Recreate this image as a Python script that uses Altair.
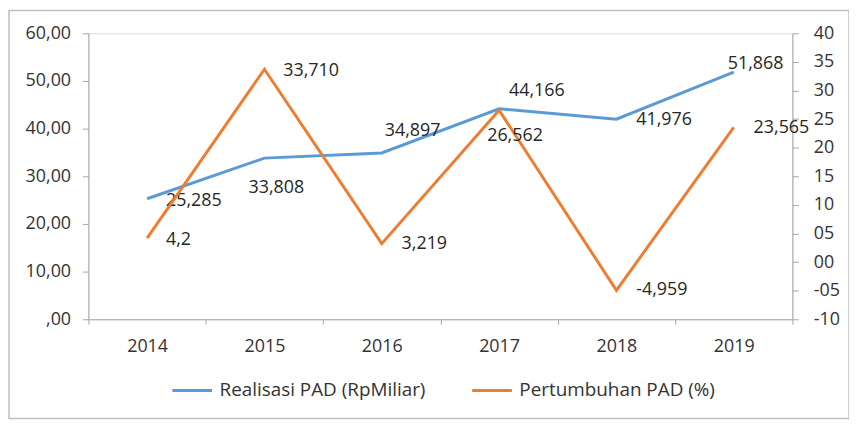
import altair as alt
import pandas as pd

years = ["2014", "2015", "2016", "2017", "2018", "2019"]
realisasi = [25.285, 33.808, 34.897, 44.166, 41.976, 51.868]
pertumbuhan = [4.2, 33.710, 3.219, 26.562, -4.959, 23.565]
realisasi_labels = ["25,285", "33,808", "34,897", "44,166", "41,976", "51,868"]
pertumbuhan_labels = ["4,2", "33,710", "3,219", "26,562", "-4,959", "23,565"]
series_names = ["Realisasi PAD (RpMiliar)", "Pertumbuhan PAD (%)"]
colors = ["#5b9bd5", "#ed7d31"]

left_ticks = [0, 10, 20, 30, 40, 50, 60]
right_ticks = [-10, -5, 0, 5, 10, 15, 20, 25, 30, 35, 40]

# label offsets (dx, dy) in pixels, per point
blue_offsets = [(19, 2), (-16, 30), (3, -22), (10, -18), (20, 1), (-6, -8)]
orange_offsets = [(19, 2), (19, 2), (20, 0), (-12, 26), (20, 0), (20, 1)]

FONT = "Open Sans"
AX_COLOR = "#a6a6a6"
TXT = "#333333"
FS = 18

df_b = pd.DataFrame({"year": years, "value": realisasi, "label": realisasi_labels,
                     "series": series_names[0]})
df_o = pd.DataFrame({"year": years, "value": pertumbuhan, "label": pertumbuhan_labels,
                     "series": series_names[1]})

x_enc = alt.X(
    "year:O",
    scale=alt.Scale(type="band", paddingInner=0, paddingOuter=0),
    bandPosition=0.5,
    axis=alt.Axis(title=None, tickBand="extent", labelAngle=0, domainColor=AX_COLOR,
                  tickColor=AX_COLOR, tickSize=5, labelPadding=13, labelFontSize=FS,
                  labelColor=TXT, labelFont=FONT),
)

color_enc = alt.Color(
    "series:N",
    scale=alt.Scale(domain=series_names, range=colors),
    legend=alt.Legend(orient="none", legendX=83, legendY=338, direction="horizontal",
                      title=None, symbolType="stroke", symbolSize=1600,
                      symbolStrokeWidth=3, labelFontSize=19, labelFont=FONT,
                      labelColor=TXT, labelOffset=6, columnPadding=40, labelLimit=400),
)

y_left = alt.Y(
    "value:Q",
    scale=alt.Scale(domain=[0, 60], nice=False, zero=False),
    axis=alt.Axis(title=None, orient="left", values=left_ticks, domainColor=AX_COLOR,
                  tickColor=AX_COLOR, tickSize=6, labelPadding=12, labelFontSize=FS,
                  labelColor=TXT, labelFont=FONT, grid=False,
                  labelExpr="datum.value == 0 ? ',00' : replace(format(datum.value, '.2f'), '.', ',')"),
)

y_right = alt.Y(
    "value:Q",
    scale=alt.Scale(domain=[-10, 40], nice=False, zero=False),
    axis=alt.Axis(title=None, orient="right", values=right_ticks, domainColor=AX_COLOR,
                  tickColor=AX_COLOR, tickSize=6, labelPadding=15, labelFontSize=FS,
                  labelColor=TXT, labelFont=FONT, grid=False,
                  labelExpr="datum.value < 0 ? (datum.value > -10 ? '-0' + abs(datum.value) : '' + datum.value) : (datum.value < 10 ? '0' + datum.value : '' + datum.value)"),
)


def group(df, y_enc, offsets):
    base = alt.Chart(df)
    line = base.mark_line(strokeWidth=3).encode(x=x_enc, y=y_enc, color=color_enc)
    layers = [line]
    for yr, (dx, dy) in zip(years, offsets):
        t = base.transform_filter(alt.datum.year == yr).mark_text(
            align="left", baseline="middle", dx=dx, dy=dy, fontSize=FS, font=FONT,
            color="#262626"
        ).encode(x=x_enc, y=y_enc, text="label:N")
        layers.append(t)
    return alt.layer(*layers)


left_group = group(df_b, y_left, blue_offsets)
right_group = group(df_o, y_right, orange_offsets)

border = alt.Chart(pd.DataFrame({"a": [0]})).mark_rect(
    fill="transparent", stroke="#bfbfbf", strokeWidth=1.5
).encode(x=alt.value(-80), x2=alt.value(766), y=alt.value(-23), y2=alt.value(388))

chart = alt.layer(border, left_group, right_group).resolve_scale(
    y="independent"
).properties(
    width=709,
    height=288,
    autosize=alt.AutoSizeParams(type="none"),
    padding={"left": 81, "top": 24, "right": 57, "bottom": 102},
).configure_view(fill="#ebebeb", strokeWidth=0).configure(background="white")

chart.save("out.html", embed_options={"renderer": "svg", "actions": False})
